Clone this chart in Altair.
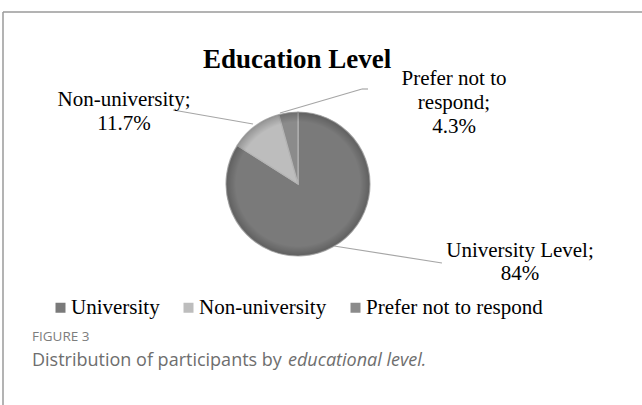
import altair as alt
import pandas as pd

# ---- data ----
categories = ["University", "Non-university", "Prefer not to respond"]
shares = [84.0, 11.7, 4.3]
slice_colors = ["#7a7a7a", "#bdbdbd", "#8b8b8b"]

title_text = "Education Level"
label_univ = ["University Level;", "84%"]
label_nonuniv = ["Non-university;", "11.7%"]
label_prefer = ["Prefer not to", "respond;", "4.3%"]
fig_label = "FIGURE 3"
caption_plain = "Distribution of participants by"
caption_italic = "educational level."

W, H = 642, 405
SERIF = "Liberation Serif"
SANS = "Open Sans"

df = pd.DataFrame({"category": categories, "share": shares, "rank": list(range(len(categories)))})

pie = alt.Chart(df).mark_arc(radius=72, stroke="#b4b4b4", strokeWidth=1.2).encode(
    theta=alt.Theta("share:Q", stack=True),
    color=alt.Color(
        "category:N",
        sort=categories,
        scale=alt.Scale(domain=categories, range=slice_colors),
        legend=alt.Legend(
            title=None,
            orient="none",
            legendX=50,
            legendY=297,
            direction="horizontal",
            symbolType="square",
            symbolSize=100,
            symbolStrokeWidth=0,
            labelFont=SERIF,
            labelFontSize=21,
            labelColor="#000000",
            labelLimit=0,
            labelOffset=0,
            columnPadding=18,
            padding=0,
        ),
    ),
    order=alt.Order("rank:Q"),
    x=alt.value(298),
    y=alt.value(184),
)

# subtle rim shading for the bevelled look
shade = alt.Chart(pd.DataFrame({"k": [0]})).mark_arc(
    radius=72,
    fill={
        "gradient": "radial",
        "x1": 0.5, "y1": 0.5, "r1": 0,
        "x2": 0.5, "y2": 0.5, "r2": 0.5,
        "stops": [
            {"offset": 0.0, "color": "rgba(0,0,0,0)"},
            {"offset": 0.86, "color": "rgba(0,0,0,0)"},
            {"offset": 1.0, "color": "rgba(0,0,0,0.22)"},
        ],
    },
).encode(
    theta=alt.value(0),
    theta2=alt.value(6.2832),
    x=alt.value(298),
    y=alt.value(184),
)


def text_layer(lines, x, y, size, font, align="center", weight="normal", style="normal", color="#000000", lh=24):
    return alt.Chart(pd.DataFrame({"t": [lines]})).mark_text(
        x=x, y=y, align=align, baseline="alphabetic", fontSize=size, font=font,
        fontWeight=weight, fontStyle=style, color=color, lineHeight=lh,
    ).encode(text="t:N")


def seg(x1, y1, x2, y2, color="#a6a6a6", w=1.2):
    return alt.Chart(pd.DataFrame({"k": [0]})).mark_rule(color=color, strokeWidth=w).encode(
        x=alt.value(x1), y=alt.value(y1), x2=alt.value(x2), y2=alt.value(y2)
    )


layers = [
    seg(3, 12, 3, H, color="#9a9a9a", w=1.5),
    seg(3, 12, W, 12, color="#9a9a9a", w=1.5),
    # leader lines
    seg(173, 110, 253, 124),
    seg(280, 113, 362, 89),
    seg(362, 89, 368, 89),
    seg(334, 246, 442, 263),
    pie,
    shade,
    text_layer(title_text, 297, 68, 27, SERIF, weight="bold"),
    text_layer(label_nonuniv, 124, 106, 21, SERIF),
    text_layer(label_prefer, 454, 85, 21, SERIF),
    text_layer(label_univ, 520, 257, 21, SERIF, lh=23),
    text_layer(fig_label, 32, 341, 13.5, SANS, align="left", color="#7d7d7d"),
    text_layer(caption_plain, 32, 366, 18, SANS, align="left", color="#6e6e6e"),
    text_layer(caption_italic, 288, 366, 18, SANS, align="left", style="italic", color="#6e6e6e"),
]

chart = alt.layer(*layers).properties(
    width=W, height=H, autosize=alt.AutoSizeParams(type="none"), padding=0
).configure_view(stroke=None)

chart.save("out.html", embed_options={"renderer": "svg", "actions": False})
